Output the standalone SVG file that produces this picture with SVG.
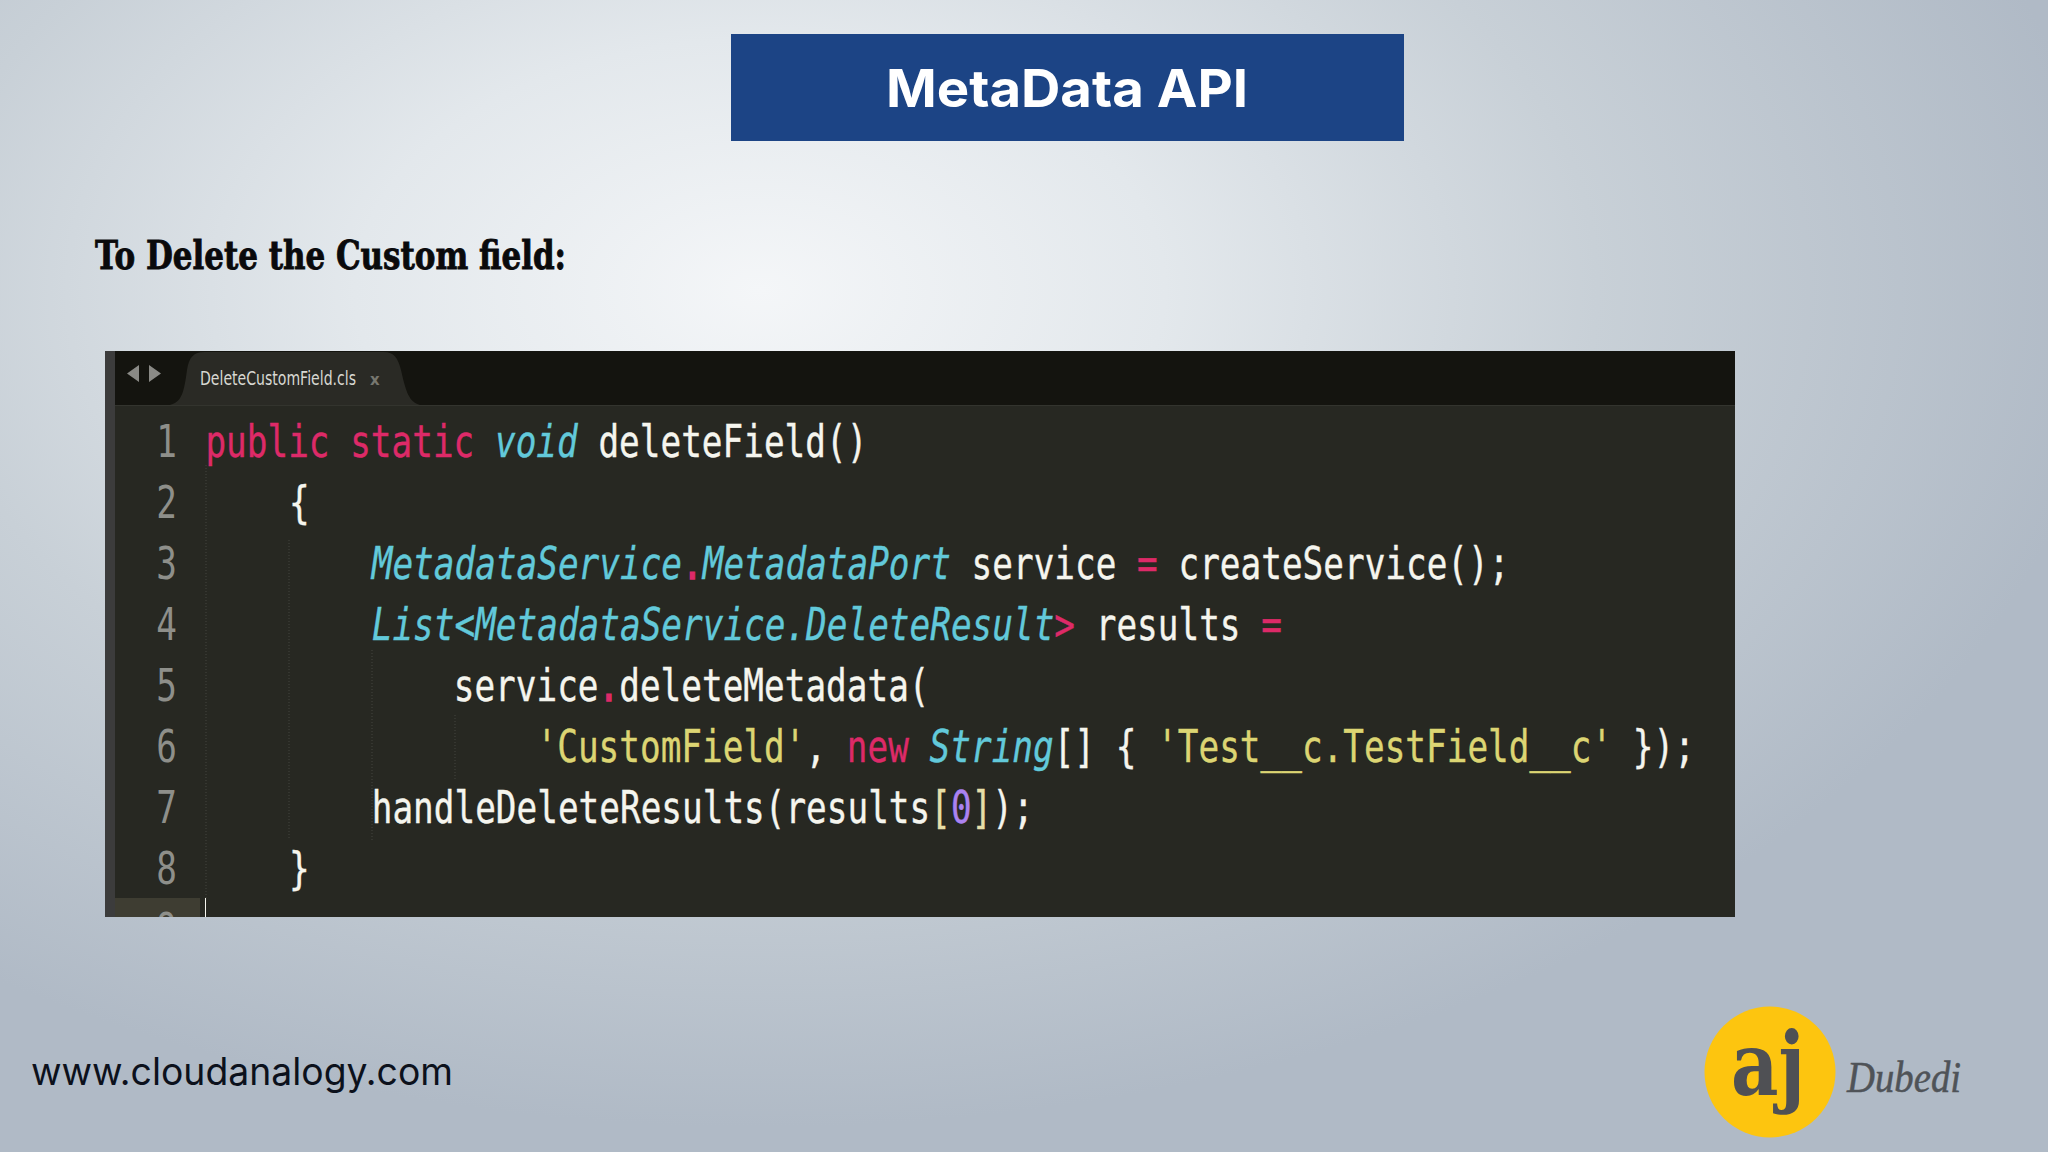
<svg xmlns="http://www.w3.org/2000/svg" width="2048" height="1152" viewBox="0 0 2048 1152">
<style>
.c{font-family:"DejaVu Sans Mono",monospace;font-size:44px;fill:#f5f5ee;white-space:pre;stroke:#f5f5ee;stroke-width:.4}
.n{font-family:"DejaVu Sans Mono",monospace;font-size:44px;fill:#8e8f8a}
.k{fill:#dd2a68;stroke:#dd2a68}.d{fill:#dd2a68;stroke:#dd2a68;stroke-width:1.6}.t{fill:#62c9da;stroke:#62c9da;font-style:italic}.s{fill:#dcd573;stroke:#dcd573}.p{fill:#ab82f0;stroke:#ab82f0}.b{fill:#e6dfa8;stroke:#e6dfa8}
.g{stroke:#44453f;stroke-width:1;stroke-dasharray:1 2}
</style>
<defs>
<radialGradient id="bg" gradientUnits="userSpaceOnUse" cx="760" cy="290" r="1350" gradientTransform="translate(760 290) scale(1 .62) translate(-760 -290)">
<stop offset="0" stop-color="#f4f6f8"/><stop offset=".3" stop-color="#e3e8ec"/><stop offset=".62" stop-color="#c8d0d7"/><stop offset="1" stop-color="#b0bac6"/>
</radialGradient>
<clipPath id="ed"><rect x="105" y="351" width="1630" height="566"/></clipPath>
</defs>
<rect width="2048" height="1152" fill="url(#bg)"/>
<g id="title"><rect x="731" y="34" width="673" height="107" fill="#1c4485"/>
<text x="886" y="107" font-family="Inter,sans-serif" font-weight="700" font-size="52" fill="#fff" textLength="362" lengthAdjust="spacingAndGlyphs">MetaData API</text></g>
<g id="heading"><text x="95" y="269" font-family="'DejaVu Serif',serif" font-weight="700" font-size="39" fill="#0a0a0c" stroke="#0a0a0c" stroke-width=".9" textLength="471" lengthAdjust="spacingAndGlyphs">To Delete the Custom field:</text></g>
<g id="editor" clip-path="url(#ed)">
<rect x="105" y="351" width="1630" height="566" fill="#272822"/>
<rect x="115" y="351" width="1620" height="54" fill="#14140f"/>
<rect x="105" y="351" width="10" height="566" fill="#3c3c3c"/>
<path d="M170 405C182 402 184 392 187 370C189 357 194 352 204 352H384C394 352 398 358 401 370C406 392 409 402 420 405Z" fill="#2a2a25"/>
<rect x="115" y="405" width="1620" height="1" fill="#33342e"/>
<path d="M139 365V382L127 373.5ZM149 365V382L161 373.5Z" fill="#8a8a86"/>
<text transform="translate(200 385) scale(.78 1)" font-family="'DejaVu Sans',sans-serif" font-size="20" fill="#d8d8d2" textLength="200" lengthAdjust="spacingAndGlyphs">DeleteCustomField.cls</text>
<text x="370" y="385" font-family="'DejaVu Sans',sans-serif" font-size="15" font-weight="700" fill="#77776f">x</text>
<rect x="115" y="898" width="85" height="19" fill="#3e3d32"/>
<rect x="205" y="898" width="1" height="19" fill="#f5f5ee"/>
<path class="g" d="M206 465V898M289 540V840M372 650V840M455 715V780"/>
<g transform="scale(.781 1)">
<text class="n" x="200" y="457">1</text><text class="n" x="200" y="518">2</text><text class="n" x="200" y="579">3</text><text class="n" x="200" y="640">4</text><text class="n" x="200" y="701">5</text><text class="n" x="200" y="762">6</text><text class="n" x="200" y="823">7</text><text class="n" x="200" y="884">8</text><text class="n" x="200" y="945">9</text>
<text class="c" x="263" y="457"><tspan class="k">public static</tspan> <tspan class="t">void</tspan> deleteField()</text>
<text class="c" x="370" y="518">{</text>
<text class="c" x="476" y="579"><tspan class="t">MetadataService</tspan><tspan class="d">.</tspan><tspan class="t">MetadataPort</tspan> service <tspan class="k">=</tspan> createService();</text>
<text class="c" x="476" y="640"><tspan class="t">List&lt;MetadataService.DeleteResult</tspan><tspan class="k">&gt;</tspan> results <tspan class="k">=</tspan></text>
<text class="c" x="581" y="701">service<tspan class="d">.</tspan>deleteMetadata(</text>
<text class="c" x="687" y="762"><tspan class="s">'CustomField'</tspan>, <tspan class="k">new</tspan> <tspan class="t">String</tspan>[] { <tspan class="s">'Test__c.TestField__c'</tspan> });</text>
<text class="c" x="476" y="823">handleDeleteResults(results<tspan class="b">[</tspan><tspan class="p">0</tspan><tspan class="b">]</tspan>);</text>
<text class="c" x="370" y="884">}</text>
</g>
</g>
<g id="url"><text x="31" y="1085" font-family="Inter,sans-serif" font-size="38" fill="#0c111c" textLength="422" lengthAdjust="spacingAndGlyphs">www.cloudanalogy.com</text></g>
<g id="logo"><circle cx="1770" cy="1072" r="65.5" fill="#fdc50f"/>
<text x="1731" y="1095" font-family="'DejaVu Serif',serif" font-weight="700" font-size="88" fill="#4f5054" textLength="74" lengthAdjust="spacingAndGlyphs">aj</text>
<text x="1847" y="1092" font-family="'Liberation Serif',serif" font-style="italic" font-size="44" fill="#4f5358" stroke="#4f5358" stroke-width=".5" textLength="114" lengthAdjust="spacingAndGlyphs">Dubedi</text></g>
</svg>
